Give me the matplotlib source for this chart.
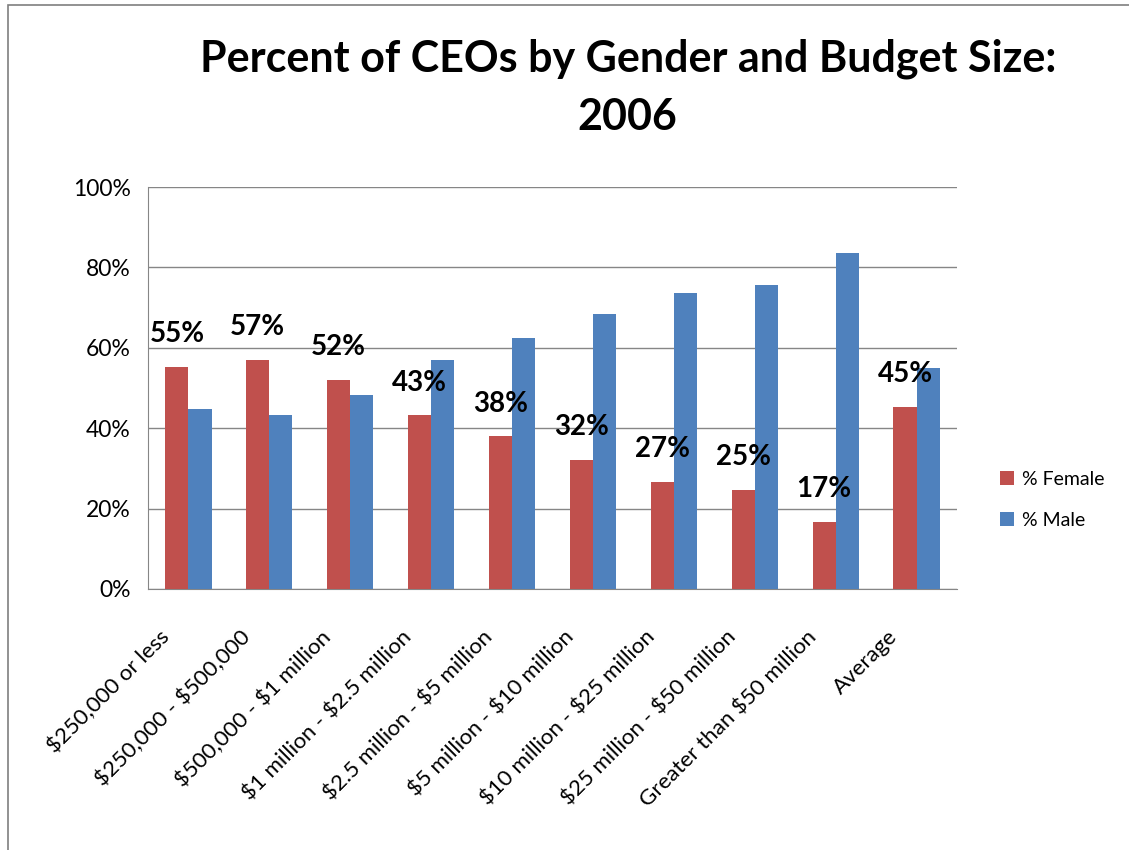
"""
Percent of CEOs by gender and budget size, 2006
"""
import numpy as np
import matplotlib.pyplot as plt
from matplotlib.patches import Rectangle
from matplotlib.ticker import FuncFormatter
from matplotlib.transforms import ScaledTranslation

plt.rcParams['font.family'] = ['Lato', 'DejaVu Sans']
plt.rcParams['text.parse_math'] = False

categories = ['$250,000 or less', '$250,000 - $500,000', '$500,000 - $1 million',
              '$1 million - $2.5 million', '$2.5 million - $5 million',
              '$5 million - $10 million', '$10 million - $25 million',
              '$25 million - $50 million', 'Greater than $50 million', 'Average']
female = [55.3, 57.0, 52.0, 43.2, 38.0, 32.2, 26.7, 24.7, 16.7, 45.3]
male = [44.7, 43.3, 48.2, 57.0, 62.5, 68.5, 73.7, 75.7, 83.5, 55.0]
yticks = [0, 20, 40, 60, 80, 100]

red, blue = '#C0504D', '#4F81BD'
grid_c = '#868686'

fig = plt.figure(figsize=(11.29, 8.5), dpi=100)
ax = fig.add_axes([0.1311, 0.3071, 0.7166, 0.4729])

x = np.arange(len(categories))
w = 1 / 3.5
ax.bar(x - w/2, female, w, color=red, label='% Female', zorder=3)
ax.bar(x + w/2, male, w, color=blue, label='% Male', zorder=3)

for xi, v in zip(x, female):
    ax.annotate(f'{v:.0f}%', (xi - w/2, v), xytext=(0, 14), textcoords='offset points',
                ha='center', va='bottom', fontsize=20, fontweight='bold')

ax.set_xlim(-0.5, len(categories) - 0.5)
ax.set_ylim(0, 100)
ax.set_yticks(yticks)
ax.yaxis.set_major_formatter(FuncFormatter(lambda v, p: f'{v:.0f}%'))
ax.tick_params(axis='y', labelsize=16.5, length=0, pad=12.5)
ax.set_xticks(x)
ax.set_xticklabels([])
ax.tick_params(axis='x', length=0)

# rotated category labels, right end just below and left of each group
lbl_tr = ax.get_xaxis_transform() + ScaledTranslation(-0.22, -0.45, fig.dpi_scale_trans)
for xi, c in zip(x, categories):
    ax.text(xi, 0, c, transform=lbl_tr, rotation=45, rotation_mode='anchor',
            ha='right', va='center', fontsize=16)

ax.yaxis.grid(True, color=grid_c, lw=1, zorder=0)
for s in ['top', 'right']:
    ax.spines[s].set_visible(False)
for s in ['left', 'bottom']:
    ax.spines[s].set_color(grid_c)

fig.text(0.556, 0.931, 'Percent of CEOs by Gender and Budget Size:', ha='center',
         va='center', fontsize=31, fontweight='bold')
fig.text(0.556, 0.862, '2006', ha='center', va='center', fontsize=31,
         fontweight='bold')

ax.legend(loc='center left', bbox_to_anchor=(1.031, 0.222), frameon=False,
          fontsize=14, handlelength=0.75, handleheight=0.75, labelspacing=1.25,
          handletextpad=0.4)

fig.patches.append(Rectangle((0.007, -0.1), 1.2, 1.094, transform=fig.transFigure,
                             fill=False, edgecolor='#7f7f7f', lw=1.2))

fig.savefig('out.png', dpi=100)
